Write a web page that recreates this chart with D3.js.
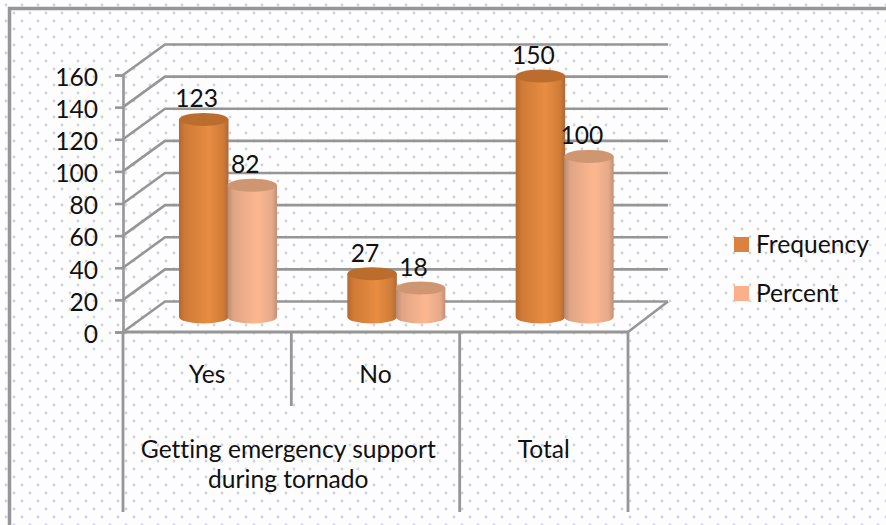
<!DOCTYPE html>
<html><head><meta charset="utf-8">
<script src="https://cdn.jsdelivr.net/npm/d3@7"></script>
<style>html,body{margin:0;padding:0;background:#fff}svg{display:block}text{font-family:Lato,"Open Sans",sans-serif;fill:#111;font-variant-ligatures:none}</style>
</head><body><div id="c"></div>
<script>
const categories = ["Yes","No","Total"];
const groupLabels = [
  {lines:["Getting emergency support","during tornado"], from:0, to:2},
  {lines:["Total"], from:2, to:3}
];
const seriesNames = ["Frequency","Percent"];
const frequency = [123,27,150];
const percent = [82,18,100];
const yTicks = [0,20,40,60,80,100,120,140,160];

const W=886,H=525,gray="#969696",fs=24.6;
const svg=d3.select("#c").append("svg").attr("width",W).attr("height",H);
const defs=svg.append("defs");
const pat=defs.append("pattern").attr("id","dots").attr("patternUnits","userSpaceOnUse").attr("width",16).attr("height",16);
pat.append("rect").attr("width",16).attr("height",16).attr("fill","#fdfdfe");
[[14,13],[6,5]].forEach(d=>pat.append("circle").attr("cx",d[0]).attr("cy",d[1]).attr("r",1.4).attr("fill","#cfd1de"));

function grad(id,stops){
  const g=defs.append("linearGradient").attr("id",id);
  stops.forEach(s=>g.append("stop").attr("offset",s[0]).attr("stop-color",s[1]));
}
grad("gF",[[0,"#b8682a"],[.12,"#cf7a36"],[.6,"#e88d42"],[.9,"#cf7b38"],[1,"#a9683a"]]);
grad("gP",[[0,"#b98a70"],[.12,"#e0a585"],[.6,"#fdb78f"],[.9,"#e5a98a"],[1,"#c09078"]]);

svg.append("rect").attr("width",W).attr("height",H).attr("fill","url(#dots)");
svg.append("path").attr("d",`M9.5,${H}V8.5H${W}`).attr("fill","none").attr("stroke",gray).attr("stroke-width",3.5);

const x0=d3.scaleBand().domain(categories).range([123,628]);
const x1=d3.scaleBand().domain(seriesNames).range([56,153]);
const y=d3.scaleLinear().domain([0,160]).range([332,75]);
const depthX=42,depthY=30.5,baseLift=15,ry=6.5;

// walls
const grid=svg.append("g").attr("fill","none").attr("stroke",gray).attr("stroke-width",2.6);
yTicks.forEach(t=>{
  grid.append("path").attr("d",d3.line()([[x0.range()[0],y(t)],[x0.range()[0]+depthX,y(t)-depthY],[x0.range()[1]+40,y(t)-depthY]]));
});
grid.append("path").attr("d",d3.line()([[x0.range()[1],y(0)],[x0.range()[1]+40,y(0)-depthY]]));

// y axis
const ya=svg.append("g").attr("transform","translate(123,0)")
  .call(d3.axisLeft(y).tickValues(yTicks).tickSize(8).tickPadding(17));
ya.selectAll("path,line").attr("stroke",gray).attr("stroke-width",2.6);
ya.selectAll("text").attr("font-size",fs).attr("fill","#111").attr("dy","0.42em").style("font-family","Lato");

// x baseline + multi-level dividers
const axisG=svg.append("g").attr("stroke",gray).attr("stroke-width",2.8);
axisG.append("line").attr("x1",x0.range()[0]).attr("x2",x0.range()[1]).attr("y1",y(0)).attr("y2",y(0));
const tall=[x0("Yes"),x0("Total"),x0.range()[1]];
tall.forEach(x=>axisG.append("line").attr("x1",x).attr("x2",x).attr("y1",y(0)).attr("y2",512));
axisG.append("line").attr("x1",x0("No")).attr("x2",x0("No")).attr("y1",y(0)).attr("y2",406);

categories.slice(0,2).forEach(c=>{
  svg.append("text").attr("x",x0(c)+x0.bandwidth()/2).attr("y",383).attr("text-anchor","middle").attr("font-size",fs).text(c);
});
groupLabels.forEach(g=>{
  const a=x0(categories[g.from]), b=a+(g.to-g.from)*x0.step();
  g.lines.forEach((l,i)=>svg.append("text").attr("x",(a+b)/2-(g.from===0?3:0)).attr("y",458+i*30).attr("text-anchor","middle").attr("font-size",fs).text(l));
});

// cylinders
const seriesData=[{name:"Frequency",vals:frequency,fill:"url(#gF)",top:"#bb6d2e",sw:"#dc8240"},
                  {name:"Percent",vals:percent,fill:"url(#gP)",top:"#cf9672",sw:"#fbb08a"}];
categories.forEach((c,ci)=>{
  seriesData.forEach(s=>{
    const v=s.vals[ci], w=x1.bandwidth()+1, xl=x0(c)+x1(s.name), rx=w/2;
    const yb=y(0)-baseLift, yt=y(v)-baseLift;
    const g=svg.append("g");
    g.append("path").attr("d",`M${xl},${yt}V${yb}A${rx},${ry} 0 0 0 ${xl+w},${yb}V${yt}Z`).attr("fill",s.fill);
    g.append("ellipse").attr("cx",xl+rx).attr("cy",yt).attr("rx",rx).attr("ry",ry).attr("fill",s.top);
    svg.append("text").attr("x",xl+rx-7).attr("y",yt-12).attr("text-anchor","middle").attr("font-size",fs).text(v);
  });
});

// legend
const legendY=d3.scalePoint().domain(seriesNames).range([244.5,293.5]);
seriesData.forEach(s=>{
  svg.append("rect").attr("x",734).attr("y",legendY(s.name)-7.5).attr("width",15).attr("height",15).attr("fill",s.sw);
  svg.append("text").attr("x",756).attr("y",legendY(s.name)+8).attr("font-size",fs).text(s.name);
});
</script></body></html>
